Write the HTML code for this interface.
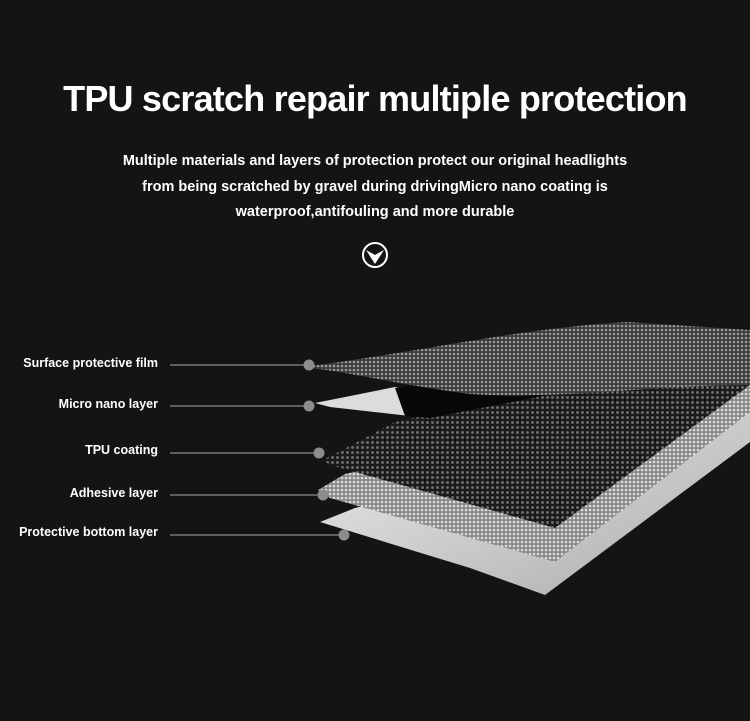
<!DOCTYPE html>
<html><head><meta charset="utf-8"><style>
html,body{margin:0;padding:0;background:#141414;}
body{width:750px;height:721px;position:relative;overflow:hidden;font-family:"Liberation Sans",sans-serif;color:#fff;}
h1{position:absolute;top:78px;left:0;width:750px;text-align:center;margin:0;font-size:36px;font-weight:bold;letter-spacing:-0.8px;}
.sub{position:absolute;top:149px;left:0;width:750px;text-align:center;font-size:14.5px;font-weight:bold;line-height:25.5px;}
.lb{position:absolute;right:592px;font-size:12.5px;font-weight:bold;white-space:nowrap;}
</style></head><body>
<h1>TPU scratch repair multiple protection</h1>
<div class="sub">Multiple materials and layers of protection protect our original headlights<br>from being scratched by gravel during drivingMicro nano coating is<br>waterproof,antifouling and more durable</div>
<div class="lb" style="top:356px">Surface protective film</div>
<div class="lb" style="top:397px">Micro nano layer</div>
<div class="lb" style="top:443px">TPU coating</div>
<div class="lb" style="top:486px">Adhesive layer</div>
<div class="lb" style="top:525px">Protective bottom layer</div>
<svg width="750" height="721" style="position:absolute;left:0;top:0">
<defs>
<pattern id="pd" width="5" height="5" patternUnits="userSpaceOnUse"><rect width="5" height="5" fill="#1a1a1a"/><circle cx="2.5" cy="2.5" r="1.5" fill="#6a6a6a"/></pattern>
<pattern id="pg" width="4" height="4" patternUnits="userSpaceOnUse"><rect width="4" height="4" fill="#3a3a3a"/><circle cx="2" cy="2" r="1.3" fill="#999"/></pattern>
<pattern id="pw" width="4" height="4" patternUnits="userSpaceOnUse"><rect width="4" height="4" fill="#888"/><circle cx="2" cy="2" r="1.3" fill="#ddd"/></pattern>
<linearGradient id="gb" x1="0" y1="0" x2="1" y2="1"><stop offset="0" stop-color="#eee"/><stop offset="1" stop-color="#aaa"/></linearGradient>
</defs>
<circle cx="375" cy="255" r="12" fill="none" stroke="#fff" stroke-width="2"/>
<path d="M366 250 L375 264 L384 250 L375 255 Z" fill="#fff"/>
<polygon points="320,522 355,508 750,412 750,442 545,595 470,568" fill="url(#gb)"/>
<polygon points="318,490 345,474 750,380 750,412 555,562 330,498" fill="url(#pw)"/>
<polygon points="323,460 395,422 750,345 750,385 555,528 330,465" fill="url(#pd)"/>
<polygon points="315,403 395,387 440,393 410,416 330,407" fill="#dcdcdc"/>
<polygon points="395,388 750,335 750,372 600,385 430,418 405,416" fill="#080808"/>
<path d="M310,366 C420,352 520,328 628,322 L750,330 L750,385 C650,385 560,400 470,394 C400,385 350,372 310,368 Z" fill="url(#pg)"/>
<g stroke="#777" stroke-width="1.5">
<line x1="170" y1="365" x2="308" y2="365"/>
<line x1="170" y1="406" x2="308" y2="406"/>
<line x1="170" y1="453" x2="318" y2="453"/>
<line x1="170" y1="495" x2="322" y2="495"/>
<line x1="170" y1="535" x2="342" y2="535"/>
</g>
<g fill="#8c8c8c">
<circle cx="309" cy="365" r="5.5"/>
<circle cx="309" cy="406" r="5.5"/>
<circle cx="319" cy="453" r="5.5"/>
<circle cx="323" cy="495" r="5.5"/>
<circle cx="344" cy="535" r="5.5"/>
</g>
</svg>
</body></html>
